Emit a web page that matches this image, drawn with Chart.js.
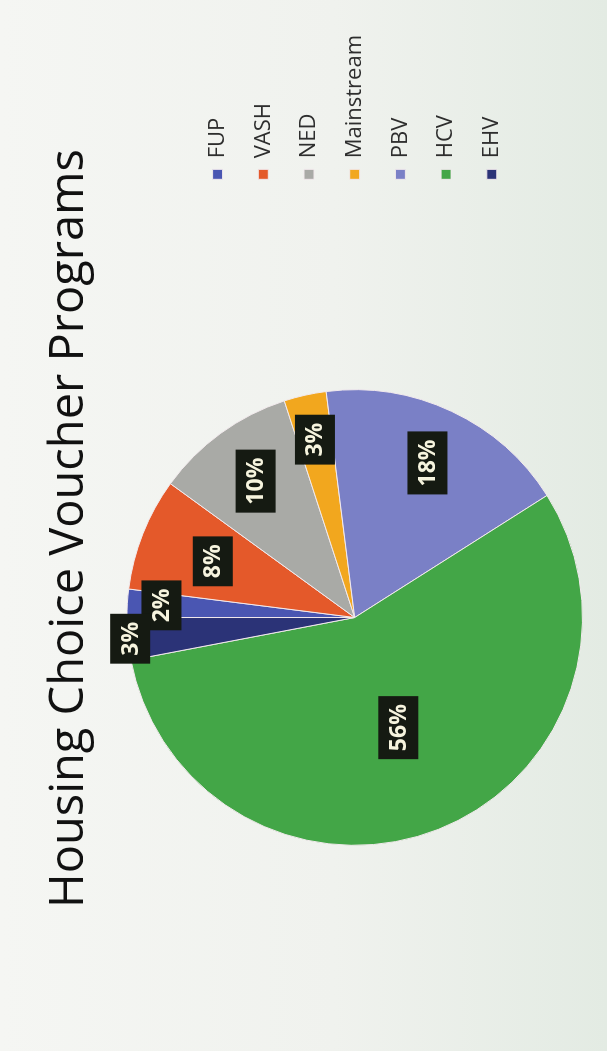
<!DOCTYPE html>
<html><head><meta charset="utf-8">
<script src="https://cdn.jsdelivr.net/npm/chart.js@4.4.0/dist/chart.umd.min.js"></script>
<style>
html,body{margin:0;padding:0;width:607px;height:1051px;overflow:hidden;background:#eef0ec;}
#wrap{position:absolute;left:0;top:0;width:1051px;height:607px;transform-origin:0 0;transform:translateY(1051px) rotate(-90deg);background:linear-gradient(to bottom,#f5f6f3 0%,#f0f2ee 55%,#e3ebe3 100%);}
canvas{display:block}
</style></head><body>
<div id="wrap"><canvas id="c" width="1051" height="607"></canvas></div>
<script>
const categories = ['FUP', 'VASH', 'NED', 'Mainstream', 'PBV', 'HCV', 'EHV'];
const shares = [2, 8, 10, 3, 18, 56, 3];
const titleText = 'Housing Choice Voucher Programs';

const sliceColors = ['#4a56b2', '#e4592a', '#a9aaa6', '#f2a71e', '#7a80c6', '#43a647', '#2b3377'];
const labelRadius = [0.85, 0.67, 0.74, 0.80, 0.75, 0.52, 0.99];

const boxLabels = {
  id: 'boxLabels',
  afterDatasetsDraw(chart) {
    const ctx = chart.ctx;
    const meta = chart.getDatasetMeta(0);
    const data = chart.data.datasets[0].data;
    const total = data.reduce((a, b) => a + b, 0);
    ctx.save();
    ctx.font = 'bold 23px "Open Sans"';
    ctx.textAlign = 'center';
    ctx.textBaseline = 'middle';
    meta.data.forEach((arc, i) => {
      const p = arc.getProps(['x', 'y', 'startAngle', 'endAngle', 'outerRadius'], true);
      const mid = (p.startAngle + p.endAngle) / 2;
      const r = p.outerRadius * labelRadius[i];
      const x = p.x + Math.cos(mid) * r;
      const y = p.y + Math.sin(mid) * r;
      const txt = Math.round(data[i] / total * 100) + '%';
      const w = ctx.measureText(txt).width + 16;
      const h = 40;
      ctx.fillStyle = '#151a12';
      ctx.fillRect(x - w / 2, y - h / 2, w, h);
      ctx.fillStyle = '#f6f4de';
      ctx.fillText(txt, x, y + 1);
    });
    ctx.restore();
  }
};

new Chart(document.getElementById('c'), {
  type: 'pie',
  data: {
    labels: categories,
    datasets: [{
      data: shares,
      backgroundColor: sliceColors,
      borderColor: '#f1e9ec',
      borderWidth: 1
    }]
  },
  options: {
    responsive: false,
    animation: false,
    devicePixelRatio: 1,
    layout: { padding: { top: 0, bottom: 24, left: 19, right: 25 } },
    plugins: {
      title: {
        display: true,
        text: titleText,
        color: '#111111',
        font: { family: 'Open Sans', size: 47, weight: '500' },
        padding: { top: 41, bottom: 29 }
      },
      legend: {
        position: 'right',
        fullSize: false,
        labels: {
          boxWidth: 10,
          boxHeight: 10,
          padding: 23.7,
          color: '#2e2e2e',
          font: { family: 'Open Sans', size: 22, weight: '500' }
        }
      },
      tooltip: { enabled: false }
    }
  },
  plugins: [boxLabels]
});
</script>
</body></html>
